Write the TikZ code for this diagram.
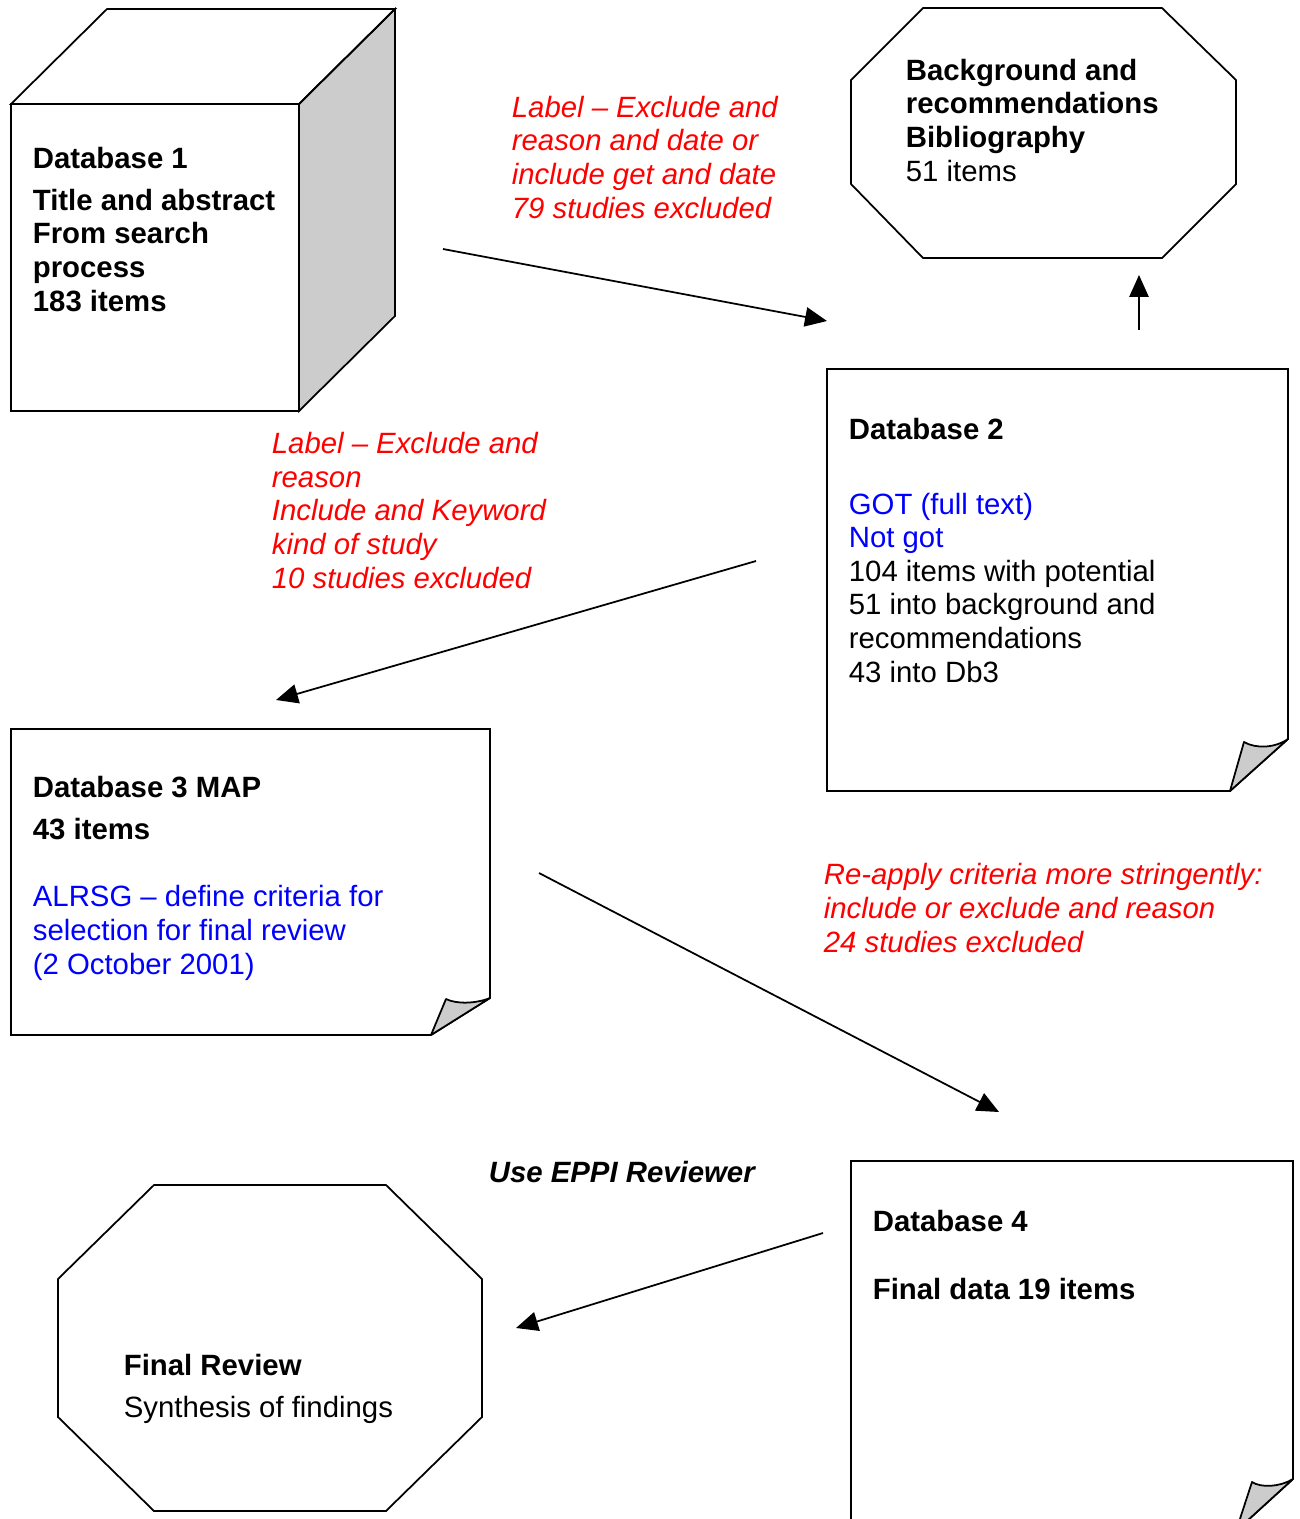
\documentclass[tikz,border=0pt]{standalone}
\usepackage{fontspec}
\setmainfont{Liberation Sans}
\usepackage{tikz}
\usetikzlibrary{arrows.meta}
\definecolor{shade}{RGB}{204,204,204}
\definecolor{note}{RGB}{255,0,0}
\definecolor{task}{RGB}{0,0,255}

\begin{document}
\begin{tikzpicture}
  [x=0.02cm, y=-0.02cm, line width=1pt, line join=miter,
   box/.style={draw=black},
   flap/.style={draw=black, fill=shade, line join=round},
   flow/.style={-{Triangle[length=12.5pt,width=11pt]}},
   txt/.style={anchor=base west, inner sep=0pt, align=left,
               font=\fontsize{16.7}{19.1}\selectfont},
   remark/.style={txt, text=note, font=\fontsize{16.7}{19.1}\selectfont\itshape}]
  \clip (0,0) rectangle (1300,1519);

  % database 1 as a cube
  \draw[box, fill=shade] (299,104) -- (395,9) -- (395,316) -- (299,411) -- cycle;
  \draw[box] (11,104) -- (107,9) -- (395,9) -- (299,104) -- cycle;
  \draw[box] (11,104) rectangle (299,411);
  \node[txt, font=\fontsize{16.7}{19.1}\selectfont\bfseries] (db1) at (32,311)
    {Database 1\\[4.5pt]Title and abstract\\From search\\process\\183 items};

  % background octagon
  \draw[box] (923,8) -- (1162,8) -- (1236,80) -- (1236,184) -- (1162,258)
    -- (923,258) -- (851,184) -- (851,80) -- cycle;
  \node[txt] (bib) at (905,181)
    {\textbf{Background and}\\\textbf{recommendations}\\\textbf{Bibliography}\\51 items};

  % database 2 as a page
  \draw[box] (827,369) -- (1288,369) -- (1288,739) -- (1230,791) -- (827,791) -- cycle;
  \draw[flap] (1230,791) -- (1244,742)
    .. controls (1256,749) and (1275,748) .. (1288,739) -- cycle;
  \node[txt] (db2) at (848,682)
    {\textbf{Database 2}\\[23.4pt]\textcolor{task}{GOT (full text)}\\\textcolor{task}{Not got}\\
     104 items with potential\\51 into background and\\recommendations\\43 into Db3};

  % database 3 as a page
  \draw[box] (11,729) -- (490,729) -- (490,998) -- (431,1035) -- (11,1035) -- cycle;
  \draw[flap] (431,1035) -- (446,999)
    .. controls (456,1004) and (475,1004) .. (490,998) -- cycle;
  \node[txt] (db3) at (32,974)
    {\textbf{Database 3 MAP}\\[4.5pt]\textbf{43 items}\\[19.5pt]
     \textcolor{task}{ALRSG -- define criteria for}\\\textcolor{task}{selection for final review}\\
     \textcolor{task}{(2 October 2001)}};

  % database 4 as a page
  \draw[box] (851,1161) -- (1293,1161) -- (1293,1479) -- (1236,1531) -- (851,1531) -- cycle;
  \draw[flap] (1236,1531) -- (1252,1482)
    .. controls (1261,1488) and (1280,1487) .. (1293,1479) -- cycle;
  \node[txt, font=\fontsize{16.7}{19.1}\selectfont\bfseries] (db4) at (872,1299)
    {Database 4\\[19.5pt]Final data 19 items};

  % final review octagon
  \draw[box] (154,1185) -- (386,1185) -- (482,1279) -- (482,1417) -- (386,1511)
    -- (154,1511) -- (58,1417) -- (58,1279) -- cycle;
  \node[txt] (final) at (123,1417) {\textbf{Final Review}\\[4.5pt]Synthesis of findings};

  % remarks on the steps
  \node[remark] (step1) at (511,218)
    {Label -- Exclude and\\reason and date or\\include get and date\\79 studies excluded};
  \node[remark] (step2) at (271,588)
    {Label -- Exclude and\\reason\\Include and Keyword\\kind of study\\10 studies excluded};
  \node[remark] (step3) at (823,952)
    {Re-apply criteria more stringently:\\include or exclude and reason\\24 studies excluded};
  \node[txt, font=\fontsize{16.7}{19.1}\selectfont\bfseries\itshape] (eppi) at (488,1182)
    {Use EPPI Reviewer};

  % arrow ends
  \coordinate (db1 out) at (443,249);
  \coordinate (db2 in) at (827,321);
  \coordinate (db2 up) at (1139,330);
  \coordinate (bib in) at (1139,275);
  \coordinate (db2 out) at (756,561);
  \coordinate (db3 in) at (276,700);
  \coordinate (db3 out) at (539,873);
  \coordinate (db4 in) at (999,1112);
  \coordinate (db4 out) at (823,1233);
  \coordinate (final in) at (516,1328);

  \draw[flow] (db1 out) -- (db2 in);
  \draw[flow] (db2 up) -- (bib in);
  \draw[flow] (db2 out) -- (db3 in);
  \draw[flow] (db3 out) -- (db4 in);
  \draw[flow] (db4 out) -- (final in);
\end{tikzpicture}
\end{document}
